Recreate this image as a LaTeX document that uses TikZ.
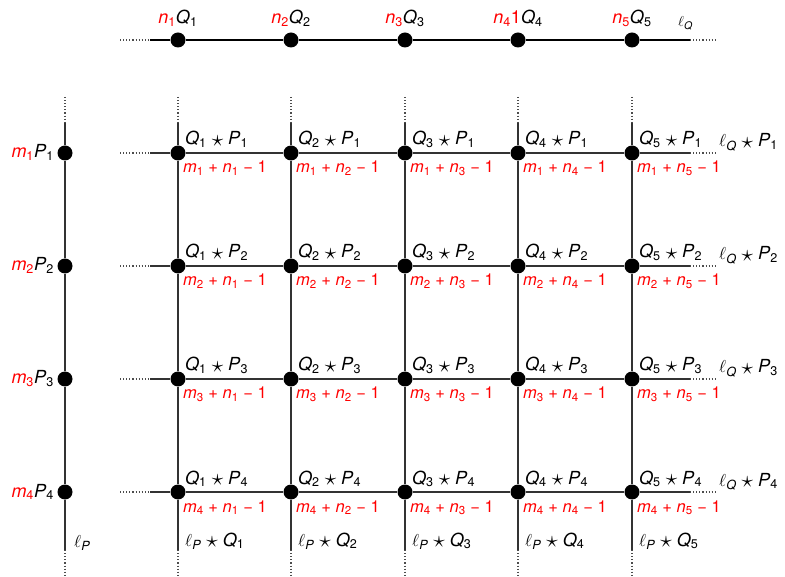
\documentclass[tikz,border=0pt]{standalone}
\usepackage{fontspec}
\usepackage{graphicx}
\setmainfont{TeX Gyre Heros}
\newcommand\sym[2]{\textit{#1}\textsubscript{#2}}
\newcommand\op{\hspace{0.28em}\raisebox{-0.09em}{\scalebox{1.35}{$\star$}}\hspace{0.28em}}
\newcommand\bin[1]{\hspace{0.28em}#1\hspace{0.28em}}
\begin{document}
\begin{tikzpicture}[x=1pt,y=-1pt,
  vtx/.style={circle,fill=black,inner sep=0pt,minimum size=15pt},
  ln/.style={line width=1.1pt,black!80},
  dts/.style={line width=1.1pt,black!70,dotted},
  blk/.style={font=\fontsize{18}{20}\selectfont,inner sep=0pt},
  rd/.style={text=red,font=\fontsize{16.5}{18}\selectfont,inner sep=0pt}]
\useasboundingbox (0,0) rectangle (785,577);
% top line
\foreach \i/\x in {1/178,2/291,3/405,4/518,5/632}
  \node[vtx] (q\i) at (\x,40) {};
\coordinate (qL) at (150,40); \coordinate (qLd) at (120,40);
\coordinate (qR) at (690,40); \coordinate (qRd) at (717,40);
\draw[line width=1.1pt] (qL) -- (q1) -- (q2) -- (q3) -- (q4) -- (q5) -- (qR);
\draw[dts] (qLd) -- (qL); \draw[dts] (qR) -- (qRd);
\foreach \i in {1,2,3,5}
  \node[blk,anchor=base] (tq\i) at ([yshift=16pt]q\i) {\textcolor{red}{\sym{n}{\i}}\sym{Q}{\i}};
\node[blk,anchor=base] (tq4) at ([yshift=16pt]q4) {\textcolor{red}{\sym{n}{4}1}\sym{Q}{4}};
\node[blk,anchor=base west,font=\fontsize{15}{16}\selectfont] (lq) at (678,27) {$\ell$\textsubscript{\textit{Q}}};
% left line
\foreach \j/\y in {1/153,2/266,3/379,4/492}
  \node[vtx] (p\j) at (65,\y) {};
\coordinate (pT) at (65,123); \coordinate (pTd) at (65,97);
\coordinate (pB) at (65,550); \coordinate (pBd) at (65,575);
\draw[ln] (pT) -- (p1) -- (p2) -- (p3) -- (p4) -- (pB);
\draw[dts] (pTd) -- (pT); \draw[dts] (pB) -- (pBd);
\foreach \j/\y in {1/153,2/266,3/379,4/492}
  \node[blk,anchor=base east] (tp\j) at (54,\y+5) {\textcolor{red}{\sym{m}{\j}}\sym{P}{\j}};
\node[blk,anchor=base west] (lp) at (74,547) {$\ell$\textsubscript{\textit{P}}};
% grid
\foreach \i/\x in {1/178,2/291,3/405,4/518,5/632}
  \foreach \j/\y in {1/153,2/266,3/379,4/492}
    \node[vtx] (g\i\j) at (\x,\y) {};
\foreach \i/\x in {1/178,2/291,3/405,4/518,5/632}{
  \coordinate (T\i) at (\x,123); \coordinate (Td\i) at (\x,97);
  \coordinate (B\i) at (\x,550); \coordinate (Bd\i) at (\x,575);
  \draw[ln] (T\i) -- (g\i1) -- (g\i2) -- (g\i3) -- (g\i4) -- (B\i);
  \draw[dts] (Td\i) -- (T\i); \draw[dts] (B\i) -- (Bd\i);
  \node[blk,anchor=base west] (bq\i) at (\x+7,546) {$\ell$\textsubscript{\textit{P}}\op\sym{Q}{\i}};
}
\foreach \j/\y in {1/153,2/266,3/379,4/492}{
  \coordinate (L\j) at (150,\y); \coordinate (Ld\j) at (120,\y);
  \coordinate (R\j) at (690,\y); \coordinate (Rd\j) at (717,\y);
  \draw[ln] (L\j) -- (g1\j) -- (g2\j) -- (g3\j) -- (g4\j) -- (g5\j) -- (R\j);
  \draw[dts] (Ld\j) -- (L\j); \draw[dts] (R\j) -- (Rd\j);
  \node[blk,anchor=base west] (rq\j) at (719,\y-6) {$\ell$\textsubscript{\textit{Q}}\op\sym{P}{\j}};
}
\foreach \i/\x in {1/178,2/291,3/405,4/518,5/632}
  \foreach \j/\y in {1/153,2/266,3/379,4/492}{
    \node[blk,anchor=base west] (a\i\j) at (\x+7,\y-8) {\sym{Q}{\i}\op\sym{P}{\j}};
    \node[rd,anchor=base west] (b\i\j) at (\x+5,\y+20) {\sym{m}{\j}\bin{+}\sym{n}{\i}\bin{−}1};
  }
\end{tikzpicture}
\end{document}
